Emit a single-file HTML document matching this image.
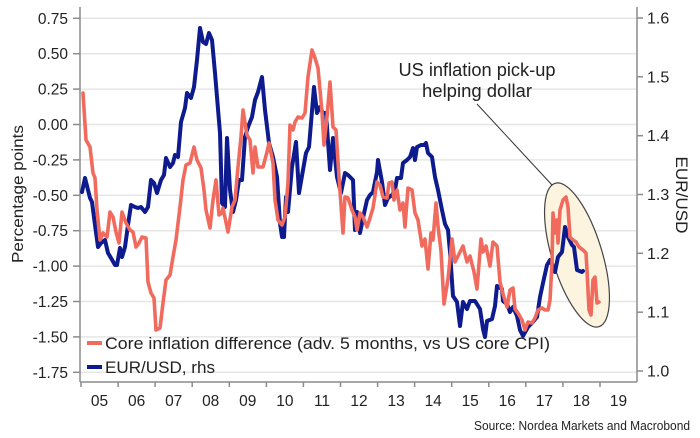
<!DOCTYPE html>
<html><head><meta charset="utf-8"><style>
html,body{margin:0;padding:0;background:#fff;}
svg{display:block;font-family:"Liberation Sans",sans-serif;}
</style></head><body>
<svg width="700" height="438" viewBox="0 0 700 438" xmlns="http://www.w3.org/2000/svg">
<rect width="700" height="438" fill="#fff"/>
<g stroke="#e6e6e6" stroke-width="1.5">
<line x1="80" y1="18.3" x2="637" y2="18.3"/>
<line x1="80" y1="53.7" x2="637" y2="53.7"/>
<line x1="80" y1="89.1" x2="637" y2="89.1"/>
<line x1="80" y1="124.5" x2="637" y2="124.5"/>
<line x1="80" y1="159.9" x2="637" y2="159.9"/>
<line x1="80" y1="195.3" x2="637" y2="195.3"/>
<line x1="80" y1="230.7" x2="637" y2="230.7"/>
<line x1="80" y1="266.1" x2="637" y2="266.1"/>
<line x1="80" y1="301.5" x2="637" y2="301.5"/>
<line x1="80" y1="336.9" x2="637" y2="336.9"/>
<line x1="80" y1="372.3" x2="637" y2="372.3"/>
</g>
<g stroke="#8c8c8c" stroke-width="1.5" fill="none">
<line x1="80" y1="7" x2="80" y2="382"/>
<line x1="637" y1="7" x2="637" y2="382"/>
<line x1="80" y1="382" x2="637" y2="382"/>
<line x1="73" y1="18.3" x2="80" y2="18.3"/>
<line x1="73" y1="53.7" x2="80" y2="53.7"/>
<line x1="73" y1="89.1" x2="80" y2="89.1"/>
<line x1="73" y1="124.5" x2="80" y2="124.5"/>
<line x1="73" y1="159.9" x2="80" y2="159.9"/>
<line x1="73" y1="195.3" x2="80" y2="195.3"/>
<line x1="73" y1="230.7" x2="80" y2="230.7"/>
<line x1="73" y1="266.1" x2="80" y2="266.1"/>
<line x1="73" y1="301.5" x2="80" y2="301.5"/>
<line x1="73" y1="336.9" x2="80" y2="336.9"/>
<line x1="73" y1="372.3" x2="80" y2="372.3"/>
<line x1="637" y1="18" x2="643" y2="18"/>
<line x1="637" y1="76.8" x2="643" y2="76.8"/>
<line x1="637" y1="135.7" x2="643" y2="135.7"/>
<line x1="637" y1="194.5" x2="643" y2="194.5"/>
<line x1="637" y1="253.3" x2="643" y2="253.3"/>
<line x1="637" y1="312.2" x2="643" y2="312.2"/>
<line x1="637" y1="371" x2="643" y2="371"/>
<line x1="81" y1="382" x2="81" y2="387"/>
<line x1="118.1" y1="382" x2="118.1" y2="387"/>
<line x1="155.1" y1="382" x2="155.1" y2="387"/>
<line x1="192.2" y1="382" x2="192.2" y2="387"/>
<line x1="229.3" y1="382" x2="229.3" y2="387"/>
<line x1="266.4" y1="382" x2="266.4" y2="387"/>
<line x1="303.4" y1="382" x2="303.4" y2="387"/>
<line x1="340.5" y1="382" x2="340.5" y2="387"/>
<line x1="377.6" y1="382" x2="377.6" y2="387"/>
<line x1="414.6" y1="382" x2="414.6" y2="387"/>
<line x1="451.7" y1="382" x2="451.7" y2="387"/>
<line x1="488.8" y1="382" x2="488.8" y2="387"/>
<line x1="525.8" y1="382" x2="525.8" y2="387"/>
<line x1="562.9" y1="382" x2="562.9" y2="387"/>
<line x1="600" y1="382" x2="600" y2="387"/>
</g>
<g font-size="15.5" fill="#222" text-anchor="end">
<text x="68" y="23.8">0.75</text>
<text x="68" y="59.2">0.50</text>
<text x="68" y="94.6">0.25</text>
<text x="68" y="130">0.00</text>
<text x="68" y="165.4">-0.25</text>
<text x="68" y="200.8">-0.50</text>
<text x="68" y="236.2">-0.75</text>
<text x="68" y="271.6">-1.00</text>
<text x="68" y="307">-1.25</text>
<text x="68" y="342.4">-1.50</text>
<text x="68" y="377.8">-1.75</text>
</g>
<g font-size="16" fill="#222">
<text x="647" y="23.5">1.6</text>
<text x="647" y="82.3">1.5</text>
<text x="647" y="141.2">1.4</text>
<text x="647" y="200">1.3</text>
<text x="647" y="258.8">1.2</text>
<text x="647" y="317.7">1.1</text>
<text x="647" y="376.5">1.0</text>
</g>
<g font-size="15.5" fill="#222" text-anchor="middle">
<text x="99.5" y="406">05</text>
<text x="136.6" y="406">06</text>
<text x="173.7" y="406">07</text>
<text x="210.7" y="406">08</text>
<text x="247.8" y="406">09</text>
<text x="284.9" y="406">10</text>
<text x="322" y="406">11</text>
<text x="359" y="406">12</text>
<text x="396.1" y="406">13</text>
<text x="433.2" y="406">14</text>
<text x="470.2" y="406">15</text>
<text x="507.3" y="406">16</text>
<text x="544.4" y="406">17</text>
<text x="581.4" y="406">18</text>
<text x="618.5" y="406">19</text>
</g>
<text transform="translate(23,194) rotate(-90)" text-anchor="middle" font-size="16" fill="#222" textLength="138" lengthAdjust="spacingAndGlyphs">Percentage points</text>
<text transform="translate(676,195) rotate(90)" text-anchor="middle" font-size="17" fill="#222" textLength="77" lengthAdjust="spacingAndGlyphs">EUR/USD</text>

<ellipse cx="577" cy="255" rx="25" ry="75" transform="rotate(-17 577 255)" fill="#fcf4df" stroke="#444" stroke-width="1.2"/>
<line x1="477" y1="104" x2="552" y2="185" stroke="#333" stroke-width="1"/>
<text x="477" y="76" text-anchor="middle" font-size="18" fill="#222" textLength="157" lengthAdjust="spacingAndGlyphs">US inflation pick-up</text>
<text x="477" y="97" text-anchor="middle" font-size="18" fill="#222" textLength="110" lengthAdjust="spacingAndGlyphs">helping dollar</text>

<polyline fill="none" stroke="#0d1b8e" stroke-width="4" stroke-linejoin="round" stroke-linecap="round" points="82,192 85,178 90,198 92,202 95,225 98,247 101,243 105,240 108,253 111,258 115,265 117,265 120,248 122,257 125,247 128,225 131,205 135,207 138,208 141,207 145,212 148,207 151,180 154,183 157,193 161,180 164,175 166,158 170,167 173,163 175,155 178,157 181,122 185,108 187,93 191,98 194,87 197,60 200,28 203,42 206,44 209,33 212,40 215,73 220,133 222,203 225,207 227,138 230,190 233,212 236,200 239,180 242,180 245,137 248,127 252,117 255,100 258,92 262,77 265,110 269,143 273,157 277,177 280,223 282,237 284,237 286,197 288,212 292,167 296,142 299,193 303,170 306,153 309,147 314,87 317,113 320,107 323,113 326,113 330,170 333,138 337,177 341,193 345,173 348,175 353,180 355,230 357,212 360,233 363,218 367,200 370,195 373,192 377,172 378,160 382,182 385,205 388,198 392,195 395,190 397,178 401,178 403,163 407,160 410,157 413,148 415,160 417,147 421,145 424,145 426,143 428,153 432,157 435,177 438,190 442,210 445,224 448,230 450,252 453,296 457,302 460,326 463,302 467,309 470,301 475,301 480,309 483,329 485,337 487,321 492,319 495,306 497,286 502,289 503,301 507,304 510,312 513,307 517,316 520,330 523,336 528,327 532,323 537,317 540,297 543,283 547,265 550,260 553,267 555,272 558,257 562,252 565,227 568,237 572,245 574,247 577,270 582,272 583,271"/>
<polyline fill="none" stroke="#f06b5e" stroke-width="3.6" stroke-linejoin="round" stroke-linecap="round" points="83,93 86,140 90,147 93,173 95,178 97,210 100,240 103,233 107,237 110,212 113,217 116,232 119,243 122,212 126,223 130,230 133,232 136,247 139,243 142,237 146,238 148,282 151,293 154,298 156,330 160,328 163,303 166,280 170,275 173,257 176,240 180,207 183,180 186,165 190,163 194,147 197,160 201,168 204,190 206,210 210,228 213,200 216,180 219,215 222,213 223,208 228,232 232,207 235,200 238,167 241,137 243,110 247,135 250,140 253,173 255,147 258,167 263,167 267,152 269,143 273,163 275,200 278,220 282,225 285,217 288,183 290,125 293,130 295,122 298,117 302,118 305,113 308,77 312,50 315,58 318,68 322,112 324,145 327,117 330,82 333,127 336,130 339,177 343,233 345,197 348,198 352,210 355,217 357,230 360,213 363,217 367,227 370,218 373,208 377,182 380,185 383,197 387,198 389,183 392,182 394,200 397,190 400,210 403,203 405,227 408,188 412,190 415,213 418,220 422,246 425,239 428,269 431,233 433,240 436,203 438,226 441,251 444,304 448,279 452,239 455,262 458,256 463,246 467,262 470,256 474,272 477,289 481,239 483,252 486,246 490,266 493,242 497,246 500,282 503,294 507,307 510,290 513,288 515,309 518,313 522,320 525,330 528,322 532,323 535,318 538,310 542,308 545,310 548,310 550,300 552,263 553,213 555,233 557,220 558,243 560,210 563,200 566,197 568,207 570,237 573,240 576,242 579,247 583,250 586,253 587,270 589,310 591,315 593,280 595,277 597,303 599,302"/>

<line x1="87" y1="343" x2="102" y2="343" stroke="#f06b5e" stroke-width="4"/>
<line x1="87" y1="367" x2="102" y2="367" stroke="#0d1b8e" stroke-width="4"/>
<text x="105" y="349" font-size="17" fill="#222" textLength="445" lengthAdjust="spacingAndGlyphs">Core inflation difference (adv. 5 months, vs US core CPI)</text>
<text x="105" y="373" font-size="17" fill="#222" textLength="110" lengthAdjust="spacingAndGlyphs">EUR/USD, rhs</text>
<text x="474" y="430" font-size="12.5" fill="#222" textLength="216" lengthAdjust="spacingAndGlyphs">Source: Nordea Markets and Macrobond</text>
</svg>
</body></html>
